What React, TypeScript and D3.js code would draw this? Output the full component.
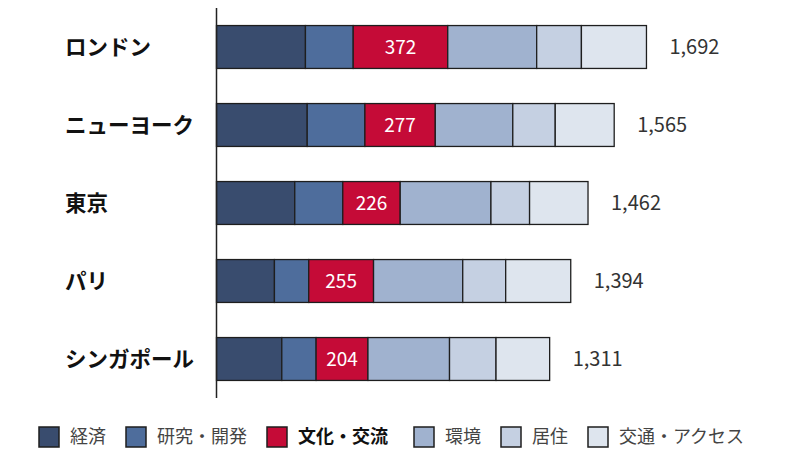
import React from "react";
import { scaleBand, scaleLinear, scaleOrdinal, stack } from "d3";

const cities = ["ロンドン", "ニューヨーク", "東京", "パリ", "シンガポール"];
const categories = ["経済", "研究・開発", "文化・交流", "環境", "居住", "交通・アクセス"];
const economy = [350, 357, 308, 228, 257];
const research = [188, 227, 189, 135, 135];
const culture = [372, 277, 226, 255, 204];
const environment = [350, 305, 357, 351, 321];
const living = [176, 167, 152, 169, 183];
const transport = [256, 232, 230, 256, 211];
const totals = [1692, 1565, 1462, 1394, 1311];
const colors = ["#394c6e", "#4e6d9c", "#c50b37", "#a0b2cf", "#c5d0e2", "#dee5ee"];

const FONT = "'Noto Sans CJK JP', 'Noto Sans', sans-serif";

type Row = { city: string; [k: string]: string | number };

const rows: Row[] = cities.map((city, i) => ({
  city,
  [categories[0]]: economy[i],
  [categories[1]]: research[i],
  [categories[2]]: culture[i],
  [categories[3]]: environment[i],
  [categories[4]]: living[i],
  [categories[5]]: transport[i],
}));

export default function App() {
  const w = 800;
  const h = 450;

  const x = scaleLinear().domain([0, 1700]).range([216.5, 648.5]);
  const y = scaleBand<string>()
    .domain(cities)
    .range([8, 398])
    .paddingInner(0.45)
    .paddingOuter(0.225);
  const color = scaleOrdinal<string, string>().domain(categories).range(colors);

  const series = stack<Row>()
    .keys(categories)
    .value((d, k) => d[k] as number)(rows);

  const highlight = categories[2];

  // legend layout: square, gap, full-width CJK text
  const fs = 18;
  let lx = 39;
  const legend = categories.map((c) => {
    const item = { c, x: lx };
    lx += 21 + 10 + c.length * fs + (c === highlight ? 6 : 0) + 20;
    return item;
  });

  return (
    <svg
      width={w}
      height={h}
      style={{ position: "absolute", left: 0, top: 0, background: "#fff" }}
      fontFamily={FONT}
    >
      {series.map((s) => (
        <g key={s.key} fill={color(s.key)}>
          {s.map((d) => (
            <rect
              key={d.data.city}
              x={x(d[0])}
              y={y(d.data.city)}
              width={x(d[1]) - x(d[0])}
              height={y.bandwidth()}
              stroke="#1e1e1e"
              strokeWidth={1.3}
            />
          ))}
        </g>
      ))}
      {series
        .filter((s) => s.key === highlight)
        .map((s) =>
          s.map((d) => (
            <text
              key={d.data.city}
              x={(x(d[0]) + x(d[1])) / 2}
              y={(y(d.data.city) ?? 0) + y.bandwidth() / 2}
              dy="0.36em"
              textAnchor="middle"
              fill="#fff"
              fontSize={19}
            >
              {d[1] - d[0]}
            </text>
          ))
        )}
      <line x1={216.5} x2={216.5} y1={8} y2={398} stroke="#222" strokeWidth={1.5} />
      {cities.map((c, i) => (
        <g key={c}>
          <text
            x={65}
            y={(y(c) ?? 0) + y.bandwidth() / 2}
            dy="0.36em"
            fontSize={21.5}
            fontWeight="bold"
            fill="#111"
          >
            {c}
          </text>
          <text
            x={x(totals[i]) + 23}
            y={(y(c) ?? 0) + y.bandwidth() / 2}
            dy="0.36em"
            fontSize={20}
            fill="#333"
          >
            {totals[i].toLocaleString("en-US")}
          </text>
        </g>
      ))}
      {legend.map(({ c, x: px }) => (
        <g key={c} transform={`translate(${px},427)`}>
          <rect width={20} height={20} fill={color(c)} stroke="#1e1e1e" strokeWidth={1.5} />
          <text
            x={31}
            y={10}
            dy="0.36em"
            fontSize={fs}
            fontWeight={c === highlight ? "bold" : "normal"}
            fill={c === highlight ? "#111" : "#444"}
          >
            {c}
          </text>
        </g>
      ))}
    </svg>
  );
}
